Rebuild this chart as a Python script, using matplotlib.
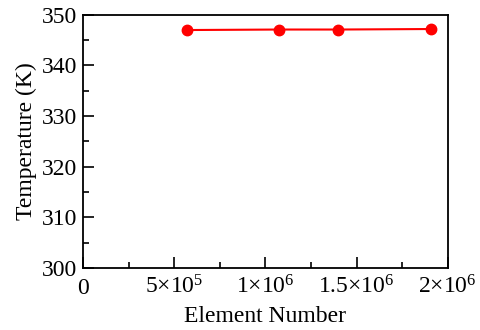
import matplotlib
matplotlib.use('Agg')
import matplotlib.pyplot as plt
from matplotlib.ticker import MultipleLocator

# data
element_number = [5.7e5, 1.075e6, 1.40e6, 1.905e6]
temperature = [347.0, 347.1, 347.1, 347.2]

x_ticks = [0, 5e5, 1e6, 1.5e6, 2e6]
x_tick_labels = ['0', '5×10$^{5}$', '1×10$^{6}$', '1.5×10$^{6}$', '2×10$^{6}$']
y_ticks = [300, 310, 320, 330, 340, 350]

plt.rcParams['font.family'] = ['Liberation Serif', 'DejaVu Serif']
plt.rcParams['mathtext.default'] = 'regular'
plt.rcParams['font.size'] = 17


def main():
    fig = plt.figure(figsize=(4.8, 3.3), dpi=100)
    ax = fig.add_axes([0.173, 0.188, 0.76, 0.767])

    ax.plot(element_number, temperature, color='red', lw=1.5,
            marker='o', markersize=7.5)

    ax.set_xlim(0, 2e6)
    ax.set_ylim(300, 350)
    ax.set_xticks(x_ticks)
    ax.set_xticklabels(x_tick_labels, va='baseline')
    ax.set_yticks(y_ticks)
    ax.xaxis.set_minor_locator(MultipleLocator(2.5e5))
    ax.yaxis.set_minor_locator(MultipleLocator(5))
    ax.tick_params(which='both', direction='in', top=False, right=False,
                   width=1.2)
    ax.tick_params(axis='x', pad=18.5)
    ax.tick_params(axis='y', pad=4)
    ax.tick_params(which='major', length=8)
    ax.tick_params(which='minor', length=4)
    for sp in ax.spines.values():
        sp.set_linewidth(1.3)

    ax.set_xlabel('Element Number', labelpad=5.5)
    ax.set_ylabel('Temperature (K)', labelpad=4)

    fig.savefig('out.png', dpi=100)


if __name__ == "__main__":
    main()
